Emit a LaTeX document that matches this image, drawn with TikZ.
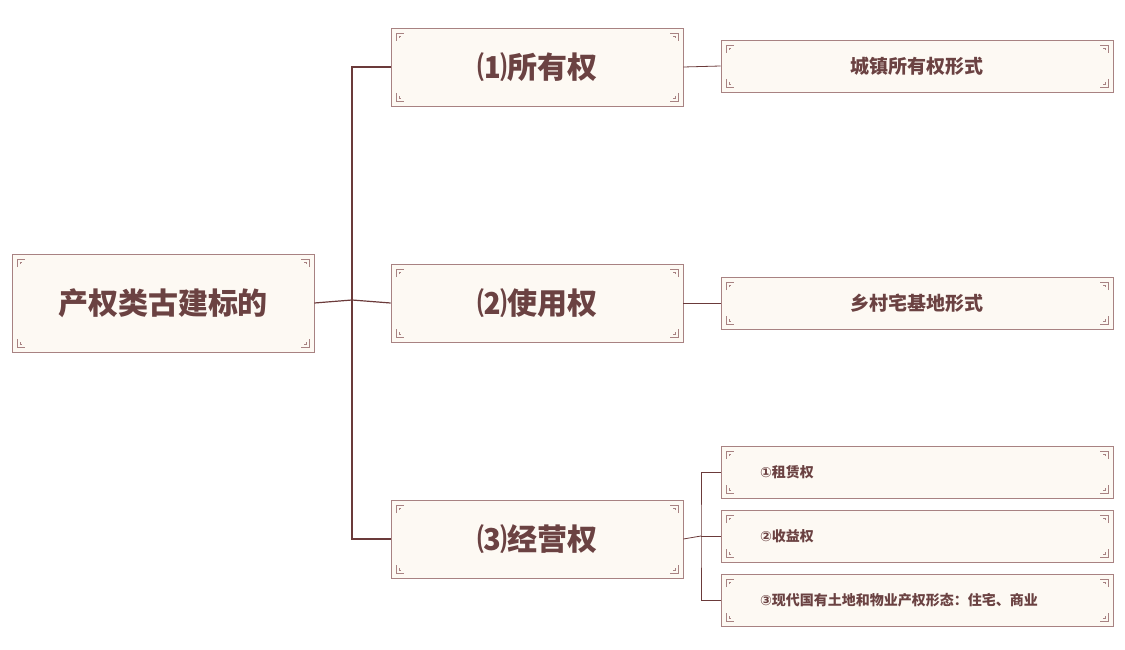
\documentclass[tikz,border=0pt]{standalone}
\usepackage{fontspec}
\setmainfont{Noto Sans CJK SC}
\newfontfamily\symfont{DejaVu Sans}
\definecolor{rim}{HTML}{A88282}
\definecolor{wire}{HTML}{6B3A3A}
\definecolor{ink}{HTML}{6B4242}
\definecolor{paper}{HTML}{FDF9F3}
% corner ornament, drawn at box corner (#1,#2) mirrored by (#3,#4)
\newcommand{\orn}[4]{%
  \begin{scope}[shift={(#1,#2)},xscale=#3,yscale=#4]
    \draw[rim,line width=0.8pt] (5,13) -- (5,5) -- (13,5) (8,10) -- (8,8) -- (10,8);
  \end{scope}}
\newcommand{\deco}[4]{\orn{#1}{#2}{1}{1}\orn{#3}{#2}{-1}{1}\orn{#1}{#4}{1}{-1}\orn{#3}{#4}{-1}{-1}}
\begin{document}
\begin{tikzpicture}[x=1pt,y=-1pt]
  \tikzset{kasten/.style={draw=rim, fill=paper, line width=0.8pt, inner sep=0pt, text=ink, font=\bfseries},
    verb/.style={wire, line width=1.2pt}};
  \useasboundingbox (0,0) rectangle (1125,650);
  \node[kasten, minimum width=302pt, minimum height=98pt, font=\bfseries\fontsize{30}{30}\selectfont] (wurzel) at (163,303) {产权类古建标的};
  \node[kasten, minimum width=292pt, minimum height=78pt, font=\bfseries\fontsize{30}{30}\selectfont] (eigen) at (537,67) {⑴所有权};
  \node[kasten, minimum width=292pt, minimum height=78pt, font=\bfseries\fontsize{30}{30}\selectfont] (nutz) at (537,303) {⑵使用权};
  \node[kasten, minimum width=292pt, minimum height=78pt, font=\bfseries\fontsize{30}{30}\selectfont] (betrieb) at (537,539) {⑶经营权};
  \node[kasten, minimum width=392pt, minimum height=52pt, font=\bfseries\fontsize{19}{19}\selectfont] (stadt) at (917,66) {城镇所有权形式};
  \node[kasten, minimum width=392pt, minimum height=52pt, font=\bfseries\fontsize{19}{19}\selectfont] (dorf) at (917,303) {乡村宅基地形式};
  \node[kasten, minimum width=392pt, minimum height=52pt] (miete) at (917,472) {};
  \node[kasten, minimum width=392pt, minimum height=52pt] (ertrag) at (917,536) {};
  \node[kasten, minimum width=392pt, minimum height=52pt] (modern) at (917,600) {};
  \foreach \n/\t in {miete/{\symfont ①}租赁权, ertrag/{\symfont ②}收益权, modern/{\symfont ③}现代国有土地和物业产权形态：住宅、商业}
    \node[anchor=west, text=ink, font=\bfseries\fontsize{14}{14}\selectfont] at ([xshift=36pt]\n.west) {\t};
  \deco{12}{254}{314}{352}
  \foreach \y in {28,264,500} {\deco{391}{\y}{683}{\y+78}}
  \foreach \y in {40,277,446,510,574} {\deco{721}{\y}{1113}{\y+52}}
  % connectors
  \draw[verb] (wurzel.east) -- (352,300) coordinate (knoten);
  \draw[verb] (eigen.west) -| (knoten) |- (betrieb.west);
  \draw[verb] (knoten) -- (nutz.west);
  \draw[wire, line width=0.8pt] (eigen.east) -- (stadt.west);
  \draw[wire, line width=0.8pt] (nutz.east) -- (dorf.west);
  \draw[wire, line width=0.8pt] (betrieb.east) -- (701,536) coordinate (gabel);
  \draw[wire, line width=0.8pt] (miete.west) -| (gabel) |- (modern.west);
  \draw[wire, line width=0.8pt] (gabel) -- (ertrag.west);
\end{tikzpicture}
\end{document}
